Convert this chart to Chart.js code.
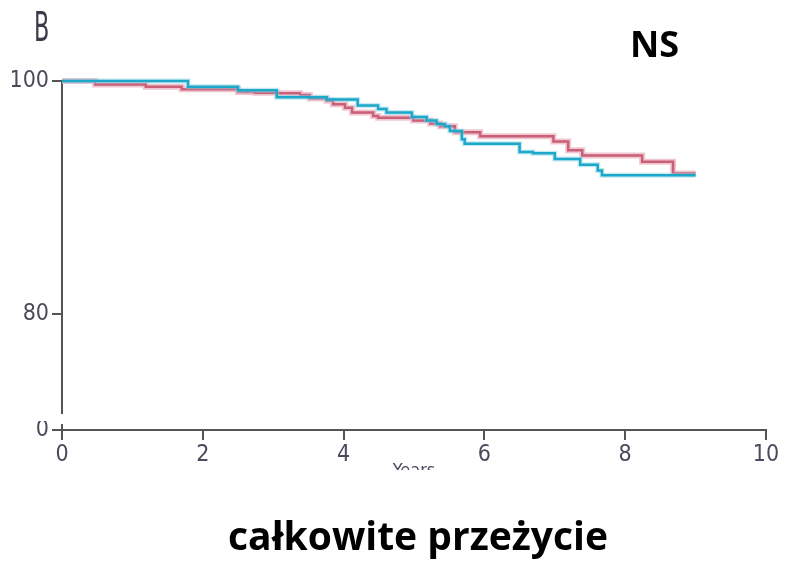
<!DOCTYPE html>
<html lang="pl">
<head>
    <meta charset="UTF-8">
    <title>całkowite przeżycie</title>
    <style>
        body {
            margin: 0;
            background: #fff;
        }
        #wrap {
            position: relative;
            width: 788px;
            height: 561px;
        }
        .lbl {
            position: absolute;
            font-family: 'Open Sans', sans-serif;
            font-weight: 700;
            color: #000;
            white-space: nowrap;
        }
        #panel {
            left: 34px;
            top: 4px;
            font-family: 'DejaVu Sans Condensed', sans-serif;
            font-weight: 400;
            font-size: 40px;
            color: #3a3a48;
            transform: scaleX(0.62);
            transform-origin: left top;
        }
        #ns {
            left: 630px;
            top: 19px;
            font-size: 36px;
        }
        #title {
            left: 0;
            width: 836px;
            text-align: center;
            top: 508px;
            font-size: 39px;
        }
    </style>
    <script src="https://cdn.jsdelivr.net/npm/chart.js"></script>
</head>
<body>
<div id="wrap">
    <canvas id="km"></canvas>
    <div class="lbl" id="panel">B</div>
    <div class="lbl" id="ns">NS</div>
    <div class="lbl" id="title">całkowite przeżycie</div>
</div>
<script>
    // krzywa czerwona
    const redYears = [0, 0.47, 1.19, 1.7, 2.5, 2.74, 3.07, 3.38, 3.52, 3.76, 3.85, 4.02, 4.12, 4.42, 4.49, 4.99, 5.23, 5.37, 5.58, 5.94, 6.98, 7.19, 7.39, 8.24, 8.68, 9.0];
    const redSurv = [100, 99.7, 99.5, 99.3, 99.05, 99.0, 98.95, 98.8, 98.5, 98.3, 98.0, 97.7, 97.3, 97.0, 96.85, 96.6, 96.35, 96.1, 95.6, 95.25, 94.8, 94.05, 93.6, 93.05, 92.05, 92.05];

    // krzywa niebieska
    const blueYears = [0, 1.79, 2.5, 3.05, 3.76, 4.2, 4.49, 4.61, 4.97, 5.18, 5.32, 5.44, 5.51, 5.68, 5.72, 6.5, 6.69, 7.0, 7.36, 7.61, 7.67, 9.0];
    const blueSurv = [100, 99.5, 99.2, 98.6, 98.4, 97.9, 97.6, 97.3, 96.9, 96.6, 96.3, 96.1, 95.7, 95.0, 94.6, 93.9, 93.8, 93.3, 92.8, 92.3, 91.9, 91.9];

    const xTicks = [0, 2, 4, 6, 8, 10];
    const yTickValues = [70, 80, 100];
    const yTickLabels = ['0', '80', '100'];

    const toPoints = (xs, ys) => xs.map((x, i) => ({ x: x, y: ys[i] }));

    const fontFamily = "'DejaVu Sans Condensed', sans-serif";

    // przerwa na osi Y i ucięty podpis osi X
    const coverPlugin = {
        id: 'cover',
        afterDraw(chart) {
            const ctx = chart.ctx;
            ctx.save();
            ctx.fillStyle = '#fff';
            ctx.fillRect(24, 412, 28, 9);
            ctx.fillRect(52, 414, 18, 10);
            ctx.fillRect(370, 470, 100, 20);
            ctx.restore();
        }
    };

    new Chart(document.getElementById('km'), {
        type: 'line',
        data: {
            datasets: [
                {
                    data: toPoints(blueYears, blueSurv),
                    borderColor: '#1ca8c8',
                    borderWidth: 2.5,
                    stepped: 'before',
                    pointRadius: 0,
                    clip: false,
                    order: 1
                },
                {
                    data: toPoints(blueYears, blueSurv),
                    borderColor: 'rgba(140, 210, 230, 0.5)',
                    borderWidth: 5,
                    stepped: 'before',
                    pointRadius: 0,
                    clip: false,
                    order: 2
                },
                {
                    data: toPoints(redYears, redSurv),
                    borderColor: '#cc5f78',
                    borderWidth: 2.5,
                    stepped: 'before',
                    pointRadius: 0,
                    clip: false,
                    order: 3
                },
                {
                    data: toPoints(redYears, redSurv),
                    borderColor: 'rgba(226, 160, 176, 0.6)',
                    borderWidth: 6,
                    stepped: 'before',
                    pointRadius: 0,
                    clip: false,
                    order: 4
                }
            ]
        },
        options: {
            responsive: true,
            maintainAspectRatio: false,
            animation: false,
            layout: {
                padding: { left: 12, top: 81, right: 22, bottom: 79 }
            },
            plugins: {
                legend: { display: false },
                tooltip: { enabled: false }
            },
            scales: {
                x: {
                    type: 'linear',
                    min: 0,
                    max: 10,
                    afterBuildTicks: scale => { scale.ticks = xTicks.map(v => ({ value: v })); },
                    afterFit: scale => { scale.height = 52; },
                    ticks: { color: '#4a4a5c', font: { family: fontFamily, size: 23 }, padding: 1, maxRotation: 0 },
                    grid: { drawOnChartArea: false, drawTicks: true, tickLength: 10, color: '#555', lineWidth: 2 },
                    border: { display: true, color: '#555', width: 2 },
                    title: { display: true, text: 'Years', color: '#4a4a5c', font: { family: fontFamily, size: 18 }, padding: 0 }
                },
                y: {
                    min: 70,
                    max: 100,
                    afterBuildTicks: scale => { scale.ticks = yTickValues.map(v => ({ value: v })); },
                    afterFit: scale => { scale.width = 50; },
                    ticks: {
                        color: '#4a4a5c',
                        font: { family: fontFamily, size: 23 },
                        padding: 3,
                        callback: v => yTickLabels[yTickValues.indexOf(v)]
                    },
                    grid: { drawOnChartArea: false, drawTicks: true, tickLength: 10, color: '#555', lineWidth: 2 },
                    border: { display: true, color: '#555', width: 2 }
                }
            }
        },
        plugins: [coverPlugin]
    });
</script>
</body>
</html>
